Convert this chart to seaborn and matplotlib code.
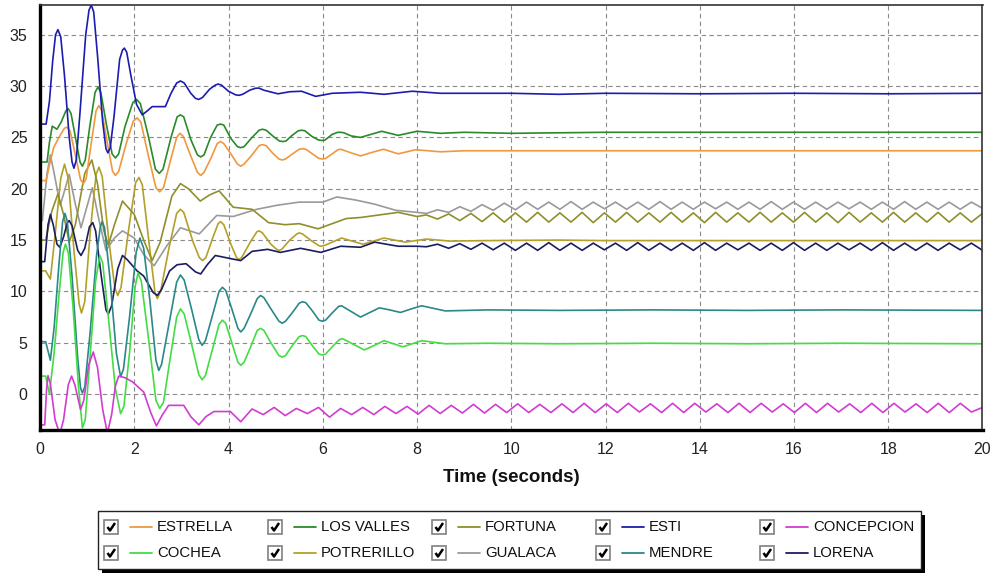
import numpy as np
import pandas as pd
import matplotlib
matplotlib.use("Agg")
import matplotlib.pyplot as plt
import seaborn as sns
from matplotlib.patches import Rectangle
from matplotlib.lines import Line2D
from matplotlib.ticker import MultipleLocator

sns.set_style("white")
plt.rcParams['font.family'] = ['Liberation Sans', 'DejaVu Sans']

# ---------------- data: (time s, value) pairs ----------------
esti_pts = [(0, 26.3), (0.13, 26.3), (0.2, 28.5), (0.27, 32.5), (0.33, 35.0), (0.38, 35.5), (0.44, 34.8),
            (0.52, 31.0), (0.62, 25.0), (0.68, 22.6), (0.72, 22.0), (0.77, 22.8), (0.85, 27.5), (0.97, 35.0),
            (1.04, 37.4), (1.09, 37.9), (1.14, 37.2), (1.22, 33.0), (1.33, 26.5), (1.4, 23.9), (1.44, 23.5),
            (1.49, 24.0), (1.57, 27.0), (1.69, 32.6), (1.75, 33.5), (1.79, 33.7), (1.84, 33.3), (1.93, 31.0),
            (2.05, 28.2), (2.17, 27.2), (2.28, 27.6), (2.38, 28.0), (2.66, 28.0), (2.78, 29.3), (2.9, 30.3),
            (2.98, 30.5), (3.06, 30.3), (3.2, 29.3), (3.3, 28.8), (3.37, 28.7), (3.45, 28.9), (3.6, 29.7),
            (3.72, 30.1), (3.78, 30.2), (3.85, 30.1), (4.0, 29.5), (4.15, 29.15), (4.22, 29.1), (4.3, 29.2),
            (4.45, 29.6), (4.58, 29.8), (4.65, 29.8), (4.75, 29.6), (5.05, 29.25), (5.3, 29.45), (5.55, 29.5),
            (5.85, 29.0), (6.2, 29.3), (6.8, 29.4), (7.3, 29.2), (7.9, 29.5), (8.5, 29.3), (10, 29.3),
            (11, 29.2), (12, 29.3), (14, 29.25), (16, 29.3), (18, 29.25), (20, 29.3)]

valles_pts = [(0, 22.6), (0.15, 22.6), (0.2, 24.5), (0.26, 26.1), (0.36, 25.8), (0.45, 26.5), (0.55, 27.6),
              (0.6, 27.8), (0.66, 27.3), (0.76, 24.8), (0.85, 22.6), (0.9, 22.2), (0.96, 22.8), (1.06, 26.2),
              (1.17, 29.4), (1.23, 29.9), (1.29, 29.4), (1.4, 26.5), (1.53, 23.4), (1.6, 23.0), (1.67, 23.4),
              (1.8, 26.0), (1.97, 28.4), (2.05, 28.7), (2.13, 28.3), (2.3, 25.1), (2.45, 21.9), (2.53, 21.5),
              (2.61, 21.9), (2.78, 25.0), (2.91, 27.0), (2.98, 27.2), (3.05, 27.0), (3.2, 24.8), (3.34, 23.3),
              (3.41, 23.1), (3.48, 23.3), (3.62, 25.0), (3.76, 26.2), (3.83, 26.3), (3.9, 26.2), (4.05, 24.9),
              (4.19, 24.1), (4.26, 24.0), (4.33, 24.1), (4.5, 25.0), (4.65, 25.7), (4.72, 25.8), (4.8, 25.7),
              (4.95, 25.1), (5.08, 24.65), (5.15, 24.6), (5.22, 24.65), (5.35, 25.2), (5.48, 25.65), (5.55, 25.7),
              (5.62, 25.65), (5.77, 25.1), (5.91, 24.75), (5.98, 24.7), (6.05, 24.75), (6.2, 25.3), (6.32, 25.5),
              (6.38, 25.5), (6.45, 25.45), (6.6, 25.15), (6.8, 25.0), (7.25, 25.6), (7.6, 25.2), (8.0, 25.6),
              (8.5, 25.4), (9, 25.5), (10, 25.4), (12, 25.5), (20, 25.5)]

estrella_pts = [(0, 20.8), (0.13, 20.8), (0.2, 22.3), (0.29, 24.0), (0.4, 25.0), (0.52, 25.9), (0.58, 26.0),
                (0.64, 25.6), (0.75, 23.3), (0.86, 20.9), (0.92, 20.5), (0.98, 21.0), (1.08, 24.2), (1.19, 27.6),
                (1.25, 28.1), (1.31, 27.6), (1.42, 24.7), (1.54, 21.7), (1.6, 21.3), (1.67, 21.7), (1.83, 24.4),
                (1.98, 26.6), (2.06, 26.9), (2.14, 26.5), (2.3, 23.2), (2.46, 20.1), (2.54, 19.7), (2.62, 20.1),
                (2.76, 22.6), (2.9, 25.0), (2.97, 25.4), (3.04, 25.1), (3.19, 23.3), (3.34, 21.6), (3.41, 21.3),
                (3.48, 21.6), (3.62, 22.9), (3.76, 24.4), (3.83, 24.6), (3.9, 24.4), (4.05, 23.4), (4.19, 22.4),
                (4.26, 22.2), (4.33, 22.4), (4.5, 23.3), (4.65, 24.2), (4.72, 24.3), (4.8, 24.2), (4.93, 23.5),
                (5.07, 22.9), (5.14, 22.8), (5.21, 22.9), (5.36, 23.4), (5.5, 23.85), (5.57, 23.9), (5.64, 23.85),
                (5.78, 23.4), (5.92, 22.95), (5.99, 22.9), (6.06, 22.95), (6.2, 23.4), (6.32, 23.8), (6.38, 23.85),
                (6.6, 23.5), (6.8, 23.2), (7.05, 23.55), (7.29, 23.85), (7.6, 23.4), (7.97, 23.8), (8.5, 23.6),
                (9, 23.7), (20, 23.7)]

gualaca_pts = [(0, 16.9), (0.05, 16.9), (0.15, 21.5), (0.22, 23.3), (0.3, 21.5), (0.43, 18.4), (0.52, 19.8),
               (0.62, 21.4), (0.75, 18.5), (0.87, 16.2), (0.98, 18.0), (1.11, 20.1), (1.25, 17.0), (1.4, 14.0),
               (1.58, 15.2), (1.75, 15.9), (2.0, 15.2), (2.2, 13.6), (2.42, 12.5), (2.7, 14.5), (2.98, 16.2),
               (3.38, 15.6), (3.75, 17.4), (4.1, 17.3), (4.6, 18.0), (5.04, 18.4), (5.5, 18.7), (6.0, 18.7),
               (6.3, 19.2), (6.7, 18.9), (7.1, 18.5), (7.55, 17.9), (8.0, 17.7)]

fortuna_pts = [(0, 15.0), (0.12, 15.0), (0.25, 17.8), (0.38, 19.5), (0.5, 17.5), (0.62, 14.8), (0.75, 16.5),
               (0.95, 21.5), (1.1, 22.8), (1.22, 20.5), (1.35, 16.0), (1.45, 14.5), (1.58, 16.5), (1.75, 18.8),
               (2.0, 17.5), (2.2, 15.0), (2.38, 13.0), (2.55, 14.8), (2.8, 19.3), (2.98, 20.5), (3.15, 20.0),
               (3.4, 18.8), (3.6, 19.4), (3.8, 19.8), (4.1, 18.2), (4.5, 18.0), (4.85, 16.7), (5.2, 16.5),
               (5.5, 16.6), (5.9, 16.1), (6.5, 17.1), (6.8, 17.2), (7.6, 17.7), (8.0, 17.3)]

potrerillo_pts = [(0, 12.0), (0.12, 12.0), (0.22, 11.2), (0.32, 15.5), (0.44, 21.0), (0.52, 22.4), (0.6, 21.0),
                  (0.72, 14.0), (0.83, 8.8), (0.88, 7.9), (0.95, 9.0), (1.07, 16.0), (1.19, 21.4), (1.25, 22.1),
                  (1.32, 21.2), (1.46, 15.0), (1.59, 10.3), (1.65, 9.6), (1.72, 10.4), (1.88, 16.0), (2.03, 20.6),
                  (2.1, 21.1), (2.17, 20.4), (2.32, 14.5), (2.44, 9.9), (2.49, 9.3), (2.56, 10.0), (2.74, 14.3),
                  (2.9, 17.6), (2.98, 18.0), (3.05, 17.7), (3.25, 14.8), (3.38, 13.3), (3.45, 13.0), (3.52, 13.3),
                  (3.68, 15.4), (3.78, 16.6), (3.83, 16.8), (3.9, 16.5), (4.05, 14.6), (4.17, 13.3), (4.22, 13.1),
                  (4.28, 13.3), (4.45, 14.7), (4.6, 15.8), (4.65, 15.9), (4.72, 15.7), (4.9, 14.6), (5.02, 14.1),
                  (5.07, 14.0), (5.13, 14.1), (5.3, 15.0), (5.45, 15.6), (5.5, 15.7), (5.57, 15.6), (5.77, 14.9),
                  (5.92, 14.45), (5.97, 14.4), (6.05, 14.5), (6.4, 15.2), (6.85, 14.6), (7.3, 15.2), (7.75, 14.8),
                  (8.2, 15.1), (8.7, 14.9), (9.5, 14.95), (11, 15.0), (12, 14.95), (20, 14.95)]

lorena_pts = [(0, 12.9), (0.1, 12.9), (0.17, 16.5), (0.22, 17.5), (0.28, 16.5), (0.36, 14.6), (0.42, 14.3),
              (0.5, 15.3), (0.58, 16.7), (0.62, 16.9), (0.68, 16.4), (0.8, 14.0), (0.87, 13.5), (0.95, 14.2),
              (1.05, 16.3), (1.12, 16.7), (1.18, 15.9), (1.3, 11.5), (1.4, 8.2), (1.45, 7.8), (1.52, 8.6),
              (1.65, 12.2), (1.75, 13.5), (1.85, 13.1), (2.06, 12.0), (2.2, 11.5), (2.4, 9.9), (2.49, 9.6),
              (2.58, 10.2), (2.75, 12.0), (2.91, 12.6), (3.1, 12.7), (3.3, 11.9), (3.41, 11.7), (3.55, 12.6),
              (3.72, 13.5), (4.04, 13.2), (4.26, 13.0), (4.5, 13.9), (4.83, 14.1), (5.1, 13.8), (5.53, 14.2),
              (5.96, 13.8), (6.38, 14.4), (6.8, 14.3), (7.1, 14.8), (7.6, 14.4), (8.0, 14.4)]

mendre_pts = [(0, 5.1), (0.12, 5.1), (0.22, 3.3), (0.3, 6.5), (0.4, 12.5), (0.48, 16.8), (0.53, 17.6),
              (0.58, 16.8), (0.68, 11.5), (0.8, 3.5), (0.86, 0.6), (0.9, 0.1), (0.95, 0.7), (1.06, 5.8),
              (1.2, 13.5), (1.28, 16.3), (1.32, 16.8), (1.37, 16.2), (1.48, 11.5), (1.62, 4.0), (1.71, 1.7),
              (1.77, 2.4), (1.9, 7.5), (2.04, 13.8), (2.12, 15.2), (2.2, 14.2), (2.33, 9.2), (2.46, 3.3),
              (2.52, 2.3), (2.58, 2.9), (2.74, 6.9), (2.9, 10.9), (2.98, 11.6), (3.06, 11.1), (3.22, 8.2),
              (3.37, 5.3), (3.44, 4.75), (3.51, 5.2), (3.65, 7.5), (3.8, 10.0), (3.87, 10.4), (3.94, 10.1),
              (4.07, 8.3), (4.2, 6.4), (4.26, 6.05), (4.33, 6.4), (4.47, 7.8), (4.61, 9.3), (4.68, 9.6),
              (4.75, 9.4), (4.9, 8.3), (5.07, 7.1), (5.14, 6.9), (5.21, 7.1), (5.35, 7.9), (5.5, 8.85),
              (5.57, 9.0), (5.64, 8.9), (5.78, 8.1), (5.92, 7.2), (5.99, 7.1), (6.06, 7.2), (6.2, 7.9),
              (6.34, 8.55), (6.4, 8.6), (6.6, 8.05), (6.8, 7.5), (7.0, 7.95), (7.2, 8.4), (7.42, 8.2),
              (7.65, 7.95), (7.88, 8.3), (8.1, 8.6), (8.35, 8.35), (8.6, 8.1), (9.5, 8.2), (11, 8.15),
              (13, 8.2), (15, 8.15), (17, 8.2), (20, 8.15)]

cochea_pts = [(0, 1.75), (0.12, 1.75), (0.2, 0.0), (0.3, 4.0), (0.4, 9.5), (0.49, 13.8), (0.54, 14.6),
              (0.6, 13.8), (0.7, 8.5), (0.82, 0.5), (0.9, -3.3), (0.96, -2.5), (1.06, 3.5), (1.18, 11.0),
              (1.27, 13.5), (1.33, 12.8), (1.45, 7.5), (1.6, 0.5), (1.71, -1.9), (1.78, -1.2), (1.9, 4.0),
              (2.02, 10.5), (2.08, 11.8), (2.15, 11.0), (2.3, 5.5), (2.46, -0.6), (2.54, -1.4), (2.62, -0.8),
              (2.76, 3.4), (2.9, 7.5), (2.98, 8.3), (3.06, 7.8), (3.22, 4.8), (3.37, 1.9), (3.44, 1.4),
              (3.51, 1.8), (3.65, 4.2), (3.8, 6.8), (3.87, 7.2), (3.94, 6.9), (4.07, 5.0), (4.2, 3.1),
              (4.26, 2.8), (4.33, 3.1), (4.47, 4.6), (4.61, 6.2), (4.68, 6.4), (4.75, 6.2), (4.9, 5.0),
              (5.07, 3.75), (5.14, 3.6), (5.21, 3.75), (5.35, 4.7), (5.5, 5.6), (5.57, 5.7), (5.64, 5.6),
              (5.78, 4.7), (5.92, 3.9), (5.99, 3.8), (6.06, 3.9), (6.2, 4.6), (6.35, 5.3), (6.42, 5.4),
              (6.65, 4.85), (6.88, 4.3), (7.1, 4.75), (7.3, 5.2), (7.5, 4.9), (7.7, 4.6), (7.9, 4.9),
              (8.1, 5.2), (8.35, 5.05), (8.6, 4.9), (9.5, 4.95), (11, 4.9), (13, 4.95), (15, 4.9),
              (17, 4.95), (20, 4.9)]

concepcion_pts = [(0, -3.0), (0.1, -3.0), (0.14, 0.5), (0.17, 1.8), (0.22, 1.0), (0.32, -2.5), (0.42, -3.9),
                  (0.5, -2.5), (0.6, 0.9), (0.67, 1.75), (0.74, 0.9), (0.86, -1.5), (0.93, -0.6), (1.03, 2.8),
                  (1.13, 4.1), (1.22, 2.6), (1.33, -1.5), (1.43, -3.8), (1.52, -2.0), (1.6, 0.8), (1.67, 1.75),
                  (1.8, 1.6), (1.96, 1.2), (2.2, 0.2), (2.35, -1.8), (2.47, -3.1), (2.6, -2.0), (2.73, -1.1),
                  (3.05, -1.1), (3.2, -2.2), (3.37, -3.0), (3.52, -2.2), (3.69, -1.7), (4.04, -1.7), (4.26, -2.7)]

# steady oscillation sections: a time grid plus values read peak / trough by peak / trough
tail_t = np.linspace(8.2, 20.0, 51)
gualaca_tail = [17.6, 17.95, 17.7, 18.25, 17.8, 18.45, 17.9, 18.6, 17.95, 18.7,
                18.0, 18.7, 18.0, 18.75, 18.0, 18.7, 18.05, 18.7, 18.0, 18.7,
                18.0, 18.75, 18.0, 18.7, 18.0, 18.7, 18.05, 18.7, 18.0, 18.7,
                18.0, 18.75, 18.0, 18.7, 18.0, 18.7, 18.0, 18.7, 18.05, 18.7,
                18.0, 18.7, 18.0, 18.75, 18.0, 18.7, 18.0, 18.7, 18.0, 18.7,
                18.1]
fortuna_tail = [17.45, 17.05, 17.55, 16.9, 17.6, 16.8, 17.65, 16.75, 17.65, 16.75,
                17.7, 16.75, 17.65, 16.75, 17.7, 16.7, 17.65, 16.75, 17.7, 16.75,
                17.65, 16.75, 17.7, 16.75, 17.65, 16.7, 17.7, 16.75, 17.65, 16.75,
                17.7, 16.75, 17.65, 16.75, 17.7, 16.75, 17.65, 16.7, 17.7, 16.75,
                17.65, 16.75, 17.7, 16.75, 17.65, 16.75, 17.7, 16.75, 17.65, 16.75,
                17.6]
lorena_tail = [14.35, 14.6, 14.2, 14.65, 14.1, 14.7, 14.05, 14.7, 14.0, 14.7,
               14.0, 14.75, 14.0, 14.7, 14.0, 14.7, 14.05, 14.7, 14.0, 14.75,
               14.0, 14.7, 14.0, 14.7, 14.0, 14.75, 14.0, 14.7, 14.05, 14.7,
               14.0, 14.7, 14.0, 14.75, 14.0, 14.7, 14.0, 14.7, 14.05, 14.7,
               14.0, 14.75, 14.0, 14.7, 14.0, 14.7, 14.0, 14.7, 14.05, 14.7,
               14.0]
conc_tail_t = np.linspace(4.5, 20.0, 67)
concepcion_tail = [-1.45, -2.0, -1.3, -2.1, -1.4, -1.9, -1.3, -2.25, -1.4, -2.0,
                   -1.3, -2.0, -1.2, -1.9, -1.2, -1.95, -1.1, -1.9, -1.1, -1.85,
                   -1.0, -1.85, -1.0, -1.8, -0.95, -1.8, -1.0, -1.8, -0.95, -1.8,
                   -0.9, -1.8, -0.95, -1.8, -0.9, -1.75, -0.95, -1.8, -0.9, -1.8,
                   -0.9, -1.75, -0.95, -1.8, -0.9, -1.8, -0.9, -1.75, -0.95, -1.8,
                   -0.9, -1.8, -0.9, -1.75, -0.95, -1.8, -0.9, -1.8, -0.9, -1.75,
                   -0.95, -1.8, -0.9, -1.8, -0.9, -1.75, -1.3]

legend_rows = [["ESTRELLA", "LOS VALLES", "FORTUNA", "ESTI", "CONCEPCION"],
               ["COCHEA", "POTRERILLO", "GUALACA", "MENDRE", "LORENA"]]
colors = {"ESTRELLA": "#f0983e", "LOS VALLES": "#2a8a2a", "FORTUNA": "#8f8f2c",
          "ESTI": "#1c1cb0", "CONCEPCION": "#d23cd2", "COCHEA": "#44dc44",
          "POTRERILLO": "#b4a028", "GUALACA": "#9a9a9a", "MENDRE": "#2a8888",
          "LORENA": "#1c1c60"}


def unzip(pts, tail_t=None, tail_v=None):
    ts = [p[0] for p in pts]
    vs = [p[1] for p in pts]
    if tail_t is not None:
        ts += [float(t) for t in tail_t]
        vs += list(tail_v)
    return ts, vs


series = {
    "ESTRELLA": unzip(estrella_pts),
    "LOS VALLES": unzip(valles_pts),
    "FORTUNA": unzip(fortuna_pts, tail_t, fortuna_tail),
    "ESTI": unzip(esti_pts),
    "CONCEPCION": unzip(concepcion_pts, conc_tail_t, concepcion_tail),
    "COCHEA": unzip(cochea_pts),
    "POTRERILLO": unzip(potrerillo_pts),
    "GUALACA": unzip(gualaca_pts, tail_t, gualaca_tail),
    "MENDRE": unzip(mendre_pts),
    "LORENA": unzip(lorena_pts, tail_t, lorena_tail),
}

rows = []
for name, (ts, vs) in series.items():
    for t, v in zip(ts, vs):
        rows.append({"series": name, "t": float(t), "v": float(v)})
df = pd.DataFrame(rows)

# ---------------- figure ----------------
W, H = 995, 575
fig = plt.figure(figsize=(W / 100, H / 100), dpi=100)
ax_l, ax_r, ax_t, ax_b = 40, 982.5, 5, 430
ax = fig.add_axes([ax_l / W, 1 - ax_b / H, (ax_r - ax_l) / W, (ax_b - ax_t) / H])

draw_order = ["GUALACA", "POTRERILLO", "FORTUNA", "LORENA", "MENDRE", "COCHEA",
              "CONCEPCION", "ESTRELLA", "LOS VALLES", "ESTI"]
sns.lineplot(data=df, x="t", y="v", hue="series", hue_order=draw_order, palette=colors,
             sort=False, estimator=None, units="series", legend=False, linewidth=1.2, ax=ax)

ax.set_xlim(0, 20)
ax.set_ylim(-3.5, 37.9)
ax.set_xticks(range(0, 21, 2))
ax.set_yticks(range(0, 36, 5))
ax.xaxis.set_minor_locator(MultipleLocator(0.5))
ax.yaxis.set_minor_locator(MultipleLocator(1.25))
ax.grid(which="major", linestyle=(0, (4, 3)), color="#8a8a8a", linewidth=0.8)
ax.set_axisbelow(True)
ax.tick_params(which="major", direction="out", length=4, width=1, color="#555555",
               labelsize=11.5, labelcolor="#222222", pad=5)
ax.tick_params(which="minor", direction="out", length=2.5, width=0.8, color="#777777")
for side in ["left", "bottom"]:
    ax.spines[side].set_linewidth(2.4)
    ax.spines[side].set_color("black")
for side in ["top", "right"]:
    ax.spines[side].set_linewidth(1.2)
    ax.spines[side].set_color("#333333")

ax.set_ylabel("")
ax.set_xlabel("Time (seconds)", fontsize=13.5, fontweight="bold", color="#111111")
ax.xaxis.set_label_coords(0.5, -(478 - ax_b) / (ax_b - ax_t))
ax.xaxis.label.set_va("center")


# ---------------- legend (drawn as a checkbox panel) ----------------
def fx(x):
    return x / W


def fy(y):
    return 1 - y / H


box_l, box_t, box_r, box_b = 98, 511, 921, 569
fig.add_artist(Rectangle((fx(box_l + 4), fy(box_b + 4)), fx(box_r - box_l), (box_b - box_t) / H,
                         transform=fig.transFigure, facecolor="black", edgecolor="none"))
fig.add_artist(Rectangle((fx(box_l), fy(box_b)), fx(box_r - box_l), (box_b - box_t) / H,
                         transform=fig.transFigure, facecolor="white", edgecolor="#222222", lw=1))

col_x = [104, 268, 432, 596, 760]
row_y = [527, 553]
for r, names in enumerate(legend_rows):
    y = row_y[r]
    for c, name in enumerate(names):
        cb = col_x[c]
        fig.add_artist(Rectangle((fx(cb), fy(y + 7)), 14 / W, 14 / H, transform=fig.transFigure,
                                 facecolor="white", edgecolor="#808080", lw=1.2))
        fig.add_artist(Line2D([fx(cb + 3.5), fx(cb + 6), fx(cb + 11)],
                              [fy(y), fy(y + 3.5), fy(y - 4)], transform=fig.transFigure,
                              color="black", lw=1.8, solid_capstyle="butt"))
        fig.add_artist(Line2D([fx(cb + 26), fx(cb + 48)], [fy(y), fy(y)], transform=fig.transFigure,
                              color=colors[name], lw=1.3))
        fig.text(fx(cb + 53), fy(y), name, ha="left", va="center", fontsize=10.7, color="#111111")

fig.savefig("out.png", dpi=100)
